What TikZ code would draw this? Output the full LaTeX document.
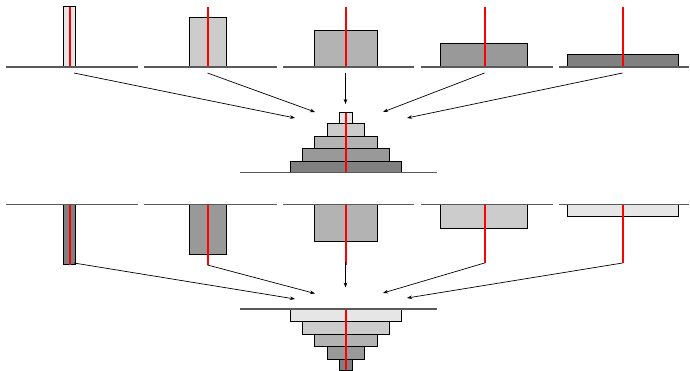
\documentclass[tikz,border=0pt]{standalone}
\usetikzlibrary{arrows.meta}
\definecolor{gA}{HTML}{E6E6E6}
\definecolor{gB}{HTML}{CCCCCC}
\definecolor{gC}{HTML}{B3B3B3}
\definecolor{gD}{HTML}{999999}
\definecolor{gE}{HTML}{808080}
\definecolor{baseC}{HTML}{5A5A5A}
\definecolor{axisC}{HTML}{FF0000}
\tikzset{
  baseline seg/.style={draw=baseC, line width=1.1bp},
  bar/.style={draw=black, line width=0.9bp},
  axisline/.style={draw=axisC, line width=1.3bp},
  arr/.style={-{Stealth[length=5bp,width=3.6bp]}, line width=0.7bp, black},
}
\begin{document}
\begin{tikzpicture}[x=1bp,y=-1bp]
\useasboundingbox (0,0) rectangle (690,370);
% ---------- top row ----------
\foreach \l/\r/\t/\fc/\m in {63.5/75.5/6.5/gA/70, 189.5/226.5/17.5/gB/208, 314.5/377.5/30.5/gC/346, 440.5/527.5/43.5/gD/485, 567.5/678.5/54.5/gE/623}{
  \draw[bar, fill=\fc] (\l,\t) rectangle (\r,67);
  \draw[axisline] (\m,7) -- (\m,67);
}
\foreach \a/\b in {6/138, 144/277, 283/414, 421/553, 559/689}{
  \draw[baseline seg] (\a,67) -- (\b,67);
}
% ---------- top stack ----------
\foreach \w/\ya/\yb/\fc in {13/112.5/123.5/gA, 37/123.5/136/gB, 63/136/148.5/gC, 87/148.5/161/gD, 111/161/172.7/gE}{
  \draw[bar, fill=\fc] ({345.5-\w/2},\ya) rectangle ({345.5+\w/2},\yb);
}
\draw[axisline] (346,112.5) -- (346,172.7);
\draw[baseline seg] (240,172.7) -- (437,172.7);
% ---------- top arrows ----------
\coordinate (ts1) at (74,73);   \coordinate (te1) at (295,118);
\coordinate (ts2) at (207.5,73);\coordinate (te2) at (315,112);
\coordinate (ts3) at (345.5,73);\coordinate (te3) at (345.5,104);
\coordinate (ts4) at (484.5,73);\coordinate (te4) at (383,112);
\coordinate (ts5) at (622.5,73);\coordinate (te5) at (407,118);
\foreach \i in {1,...,5}{ \draw[arr] (ts\i) -- (te\i); }
% ---------- bottom row ----------
\foreach \l/\r/\bt/\fc/\m/\rb in {63.5/75.5/264.5/gE/70/265, 189.5/226.5/254/gD/208/265, 314.5/377.5/241.5/gC/346/265, 440.5/527.5/228.5/gB/485/263, 567.5/678.5/216.5/gA/623/263}{
  \draw[bar, fill=\fc] (\l,204.5) rectangle (\r,\bt);
  \draw[axisline] (\m,204.5) -- (\m,\rb);
}
\foreach \a/\b in {6/138, 144/277, 283/414, 421/553, 559/689}{
  \draw[baseline seg] (\a,204.5) -- (\b,204.5);
}
% ---------- bottom stack ----------
\foreach \w/\ya/\yb/\fc in {111/309/321.5/gA, 87/321.5/334/gB, 63/334/346.5/gC, 37/346.5/359/gD, 13/359/370/gE}{
  \draw[bar, fill=\fc] ({345.5-\w/2},\ya) rectangle ({345.5+\w/2},\yb);
}
\draw[axisline] (346,309) -- (346,370);
\draw[baseline seg] (240,309) -- (437,309);
% ---------- bottom arrows ----------
\coordinate (bs1) at (74,263);   \coordinate (be1) at (295,299);
\coordinate (bs2) at (207.5,265);\coordinate (be2) at (315,293.5);
\coordinate (bs3) at (345.5,262);\coordinate (be3) at (345.5,287.5);
\coordinate (bs4) at (484.5,263);\coordinate (be4) at (383,293);
\coordinate (bs5) at (622.5,263);\coordinate (be5) at (407,298);
\foreach \i in {1,...,5}{ \draw[arr] (bs\i) -- (be\i); }
\end{tikzpicture}
\end{document}
